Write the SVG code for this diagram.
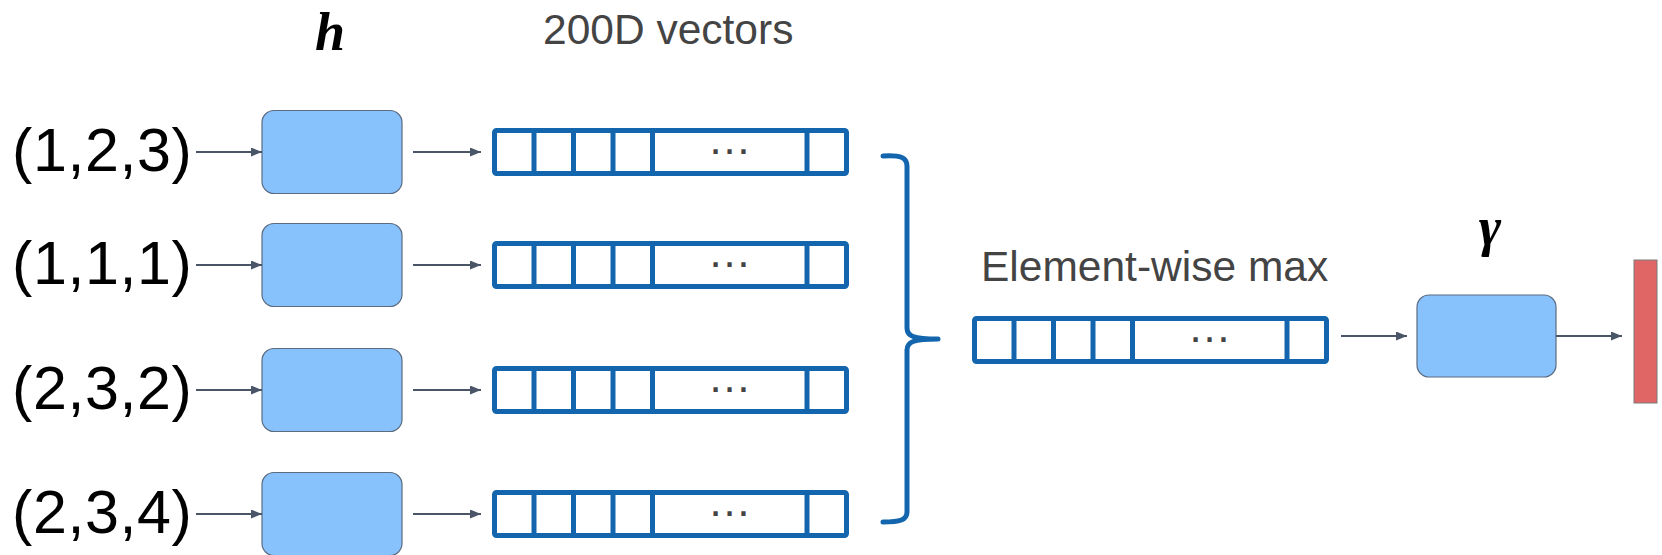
<svg xmlns="http://www.w3.org/2000/svg" xmlns:xlink="http://www.w3.org/1999/xlink" width="1662" height="555" viewBox="0 0 1662 555">
  <style>
    .tuple { font-family: "Liberation Sans", Arial, sans-serif; font-size: 61px; letter-spacing: 0.6px; fill: #000; }
    .caption { font-family: "Liberation Sans", Arial, sans-serif; font-size: 42.5px; fill: #444; }
    .math { font-family: "Liberation Serif", "DejaVu Serif", serif; font-style: italic; font-weight: bold; fill: #000; text-anchor: middle; }
    .dots { font-family: "Liberation Sans", Arial, sans-serif; font-size: 44px; fill: #444; text-anchor: middle; }
    .fn { fill: #88c2fd; stroke: #5b6b80; stroke-width: 1.2; }
    .vec { fill: #fff; stroke: #1366ad; stroke-width: 5; }
    .cell { stroke: #1366ad; stroke-width: 5; }
    .edge { stroke: #4a5568; stroke-width: 2; fill: none; marker-end: url(#head); }
    .brace { fill: none; stroke: #1366ad; stroke-width: 5; stroke-linecap: round; stroke-linejoin: round; }
    .out { fill: #e06666; stroke: #7a7a7a; stroke-width: 1; }
  </style>
  <defs>
    <marker id="head" markerUnits="userSpaceOnUse" markerWidth="11" markerHeight="9" refX="11" refY="4.5" orient="auto">
      <path d="M0,0 L11,4.5 L0,9 z" fill="#4a5568"/>
    </marker>
    <!-- 200-dimensional vector: four cells, an ellipsis span, and a last cell -->
    <g id="vector">
      <rect class="vec" x="0" y="-21.5" width="352" height="43" rx="2"/>
      <line class="cell" x1="39.5" y1="-21.5" x2="39.5" y2="21.5"/>
      <line class="cell" x1="79" y1="-21.5" x2="79" y2="21.5"/>
      <line class="cell" x1="118.5" y1="-21.5" x2="118.5" y2="21.5"/>
      <line class="cell" x1="158" y1="-21.5" x2="158" y2="21.5"/>
      <line class="cell" x1="312.5" y1="-21.5" x2="312.5" y2="21.5"/>
      <text class="dots" x="235" y="2">…</text>
    </g>
  </defs>

  <rect width="1662" height="555" fill="#fff"/>

  <!-- headings -->
  <text class="math" x="330" y="50" font-size="54">h</text>
  <text class="caption" x="543" y="44">200D vectors</text>

  <!-- input tuples -->
  <g id="in1"><text class="tuple" x="12" y="171">(1,2,3)</text></g>
  <g id="in2"><text class="tuple" x="12" y="284">(1,1,1)</text></g>
  <g id="in3"><text class="tuple" x="12" y="409">(2,3,2)</text></g>
  <g id="in4"><text class="tuple" x="12" y="533">(2,3,4)</text></g>

  <!-- shared encoder h -->
  <g id="h1"><rect class="fn" x="262" y="110.5" width="140" height="83" rx="12"/></g>
  <g id="h2"><rect class="fn" x="262" y="223.5" width="140" height="83" rx="12"/></g>
  <g id="h3"><rect class="fn" x="262" y="348.5" width="140" height="83" rx="12"/></g>
  <g id="h4"><rect class="fn" x="262" y="472.5" width="140" height="83" rx="12"/></g>

  <!-- per-tuple embeddings -->
  <g id="v1"><use xlink:href="#vector" transform="translate(494.5,152)"/></g>
  <g id="v2"><use xlink:href="#vector" transform="translate(494.5,265)"/></g>
  <g id="v3"><use xlink:href="#vector" transform="translate(494.5,390)"/></g>
  <g id="v4"><use xlink:href="#vector" transform="translate(494.5,514)"/></g>

  <!-- pooling -->
  <g id="pool">
    <path class="brace" d="M883,156 C900,155 907,157 907,166 L907,328 C907,336 913,339 938,339 C913,339 907,342 907,350 L907,512 C907,520 900,522 883,522"/>
  </g>
  <g id="maxvec">
    <text class="caption" x="981" y="281">Element-wise max</text>
    <use xlink:href="#vector" transform="translate(974.5,340)"/>
  </g>

  <!-- readout gamma -->
  <g id="gamma">
    <text class="math" x="1490" y="245" font-size="54">γ</text>
    <rect class="fn" x="1417" y="295" width="139" height="82" rx="12"/>
  </g>
  <g id="output"><rect class="out" x="1634" y="260" width="23" height="143"/></g>

  <!-- connectors -->
  <g id="edges">
    <line class="edge" x1="196" y1="152" x2="262" y2="152"/>
    <line class="edge" x1="196" y1="265" x2="262" y2="265"/>
    <line class="edge" x1="196" y1="390" x2="262" y2="390"/>
    <line class="edge" x1="196" y1="514" x2="262" y2="514"/>
    <line class="edge" x1="413" y1="152" x2="481" y2="152"/>
    <line class="edge" x1="413" y1="265" x2="481" y2="265"/>
    <line class="edge" x1="413" y1="390" x2="481" y2="390"/>
    <line class="edge" x1="413" y1="514" x2="481" y2="514"/>
    <line class="edge" x1="1341" y1="336" x2="1407" y2="336"/>
    <line class="edge" x1="1556" y1="336" x2="1622" y2="336"/>
  </g>
</svg>
